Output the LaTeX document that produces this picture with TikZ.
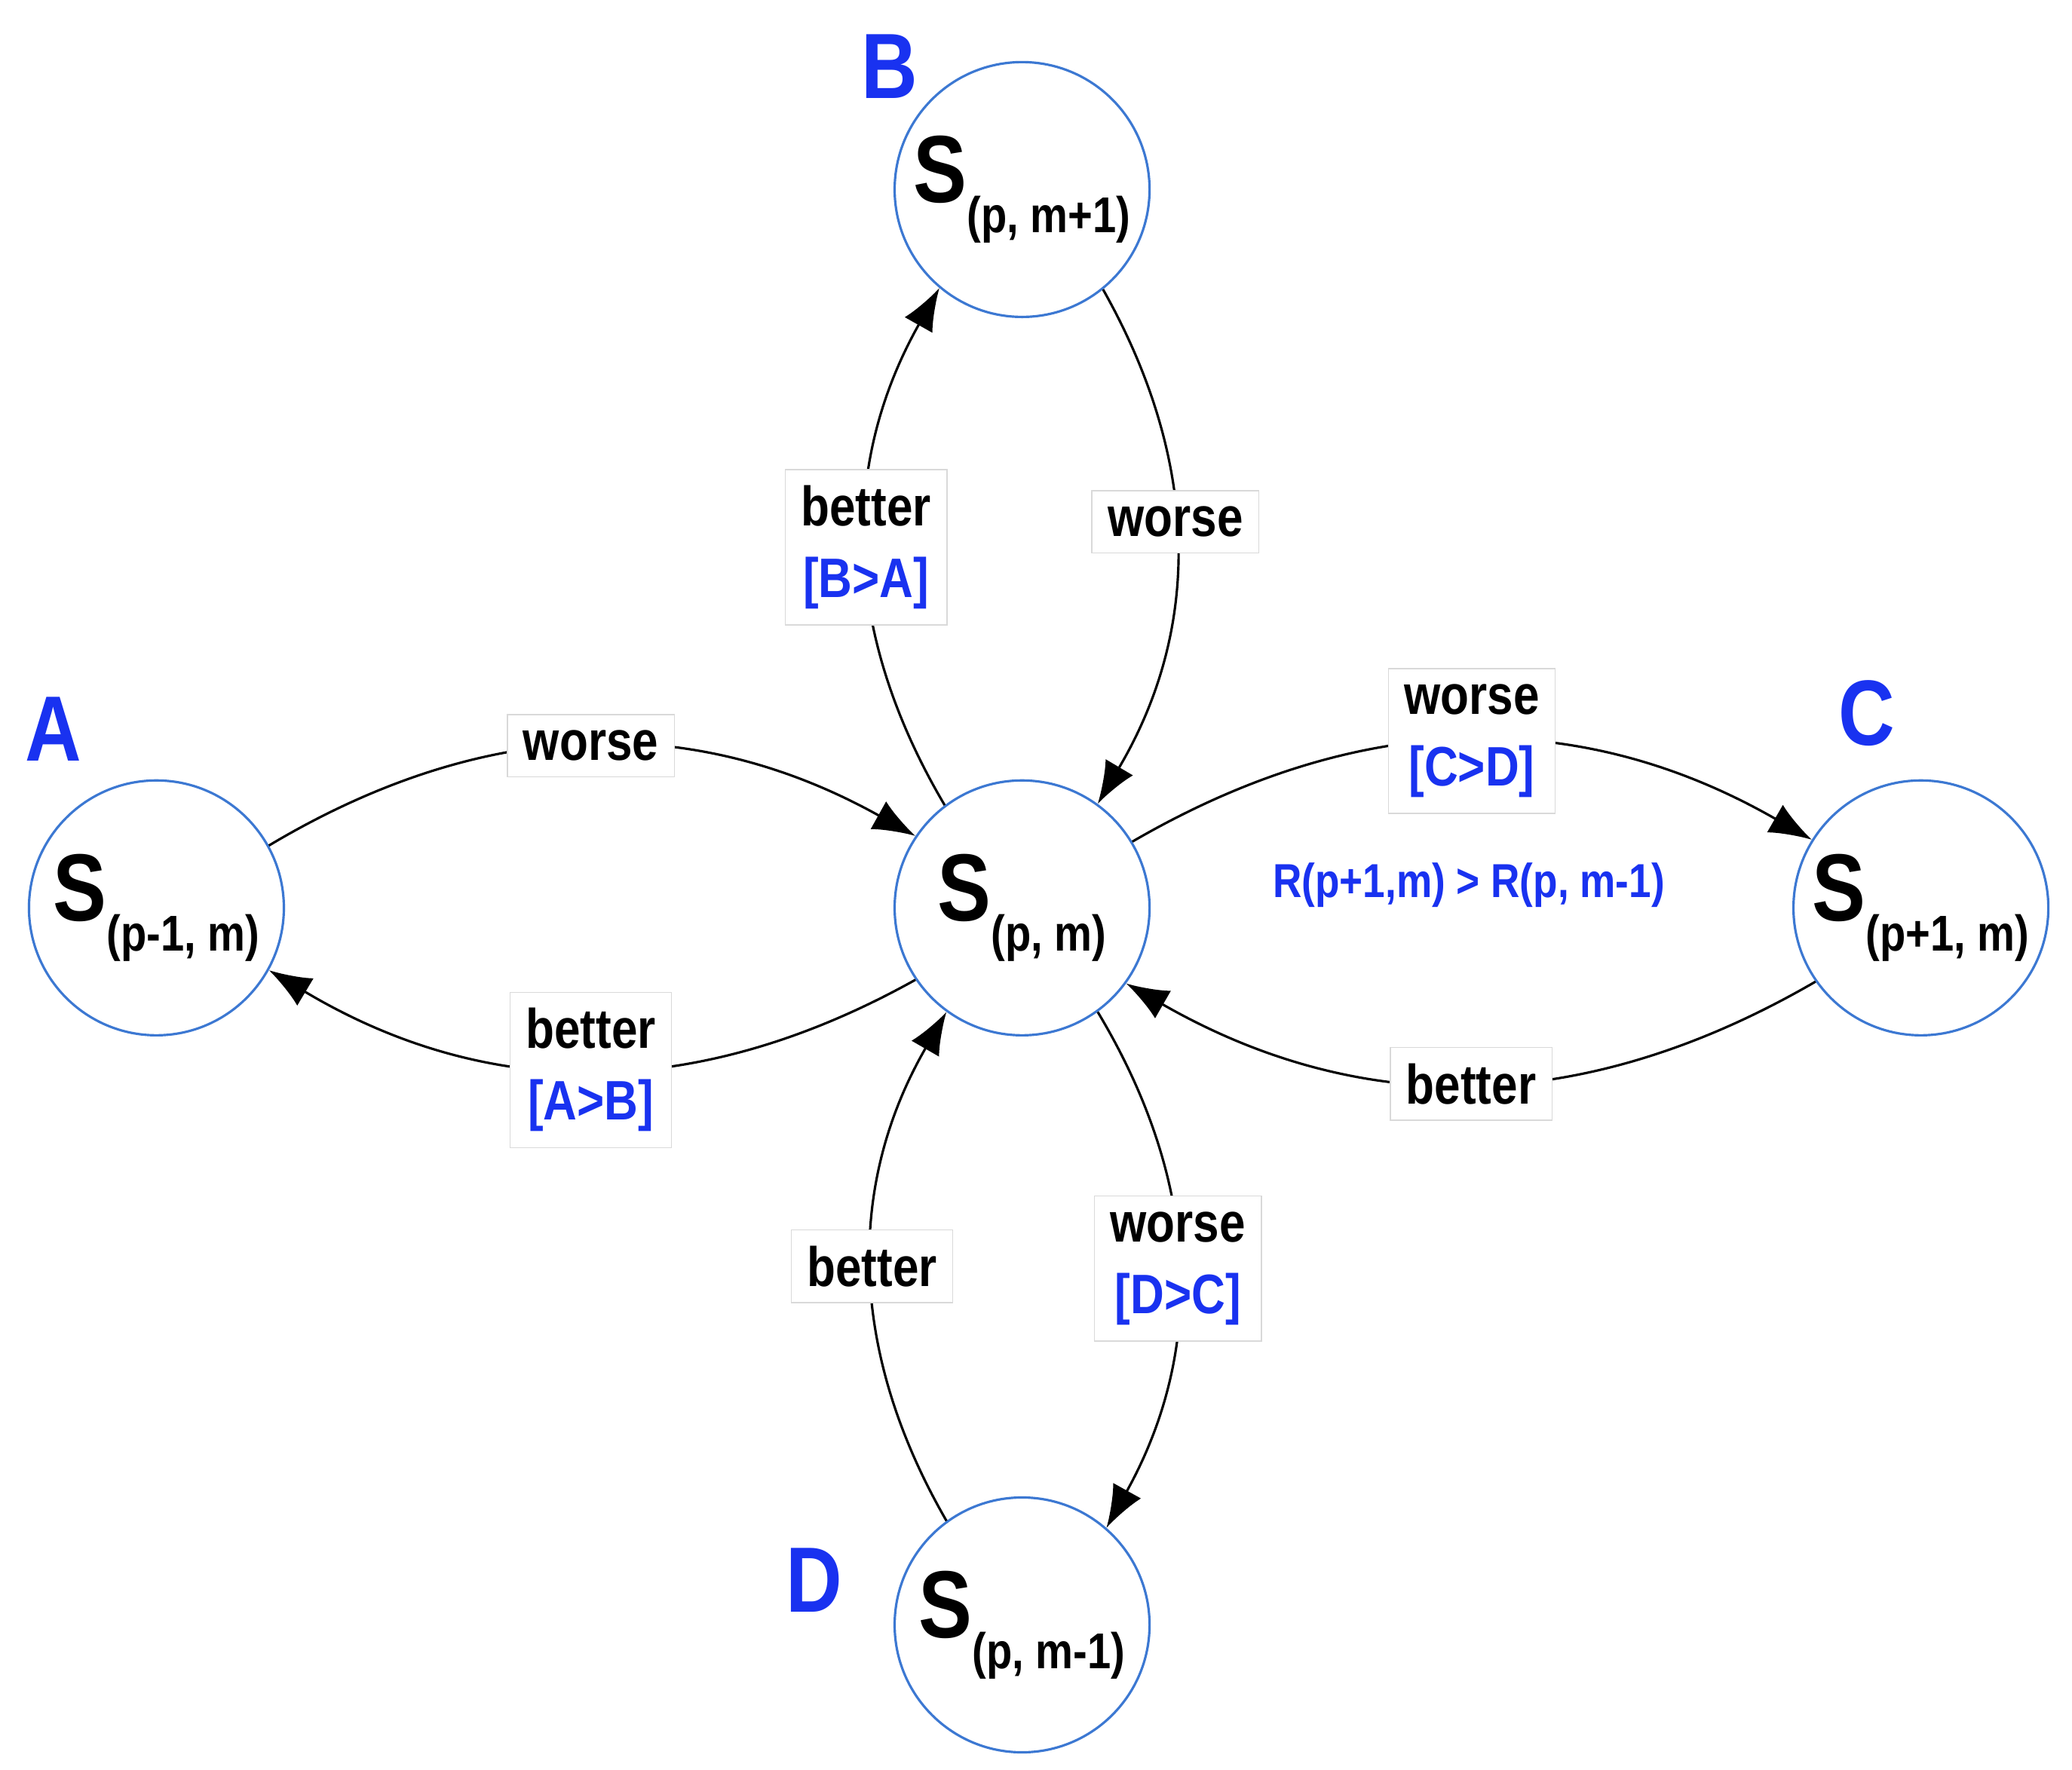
\documentclass[tikz,border=0pt]{standalone}
\usepackage{fontspec}
\setmainfont[FakeStretch=0.84]{Liberation Sans}
\usetikzlibrary{arrows.meta}
\definecolor{lblue}{RGB}{25,50,240}
\definecolor{cblue}{RGB}{60,120,210}
\tikzset{
  state/.style = {circle, draw=cblue, line width=0.9pt, minimum size=3.38cm, inner sep=0pt},
  tag/.style = {text=lblue, font=\bfseries\fontsize{35}{35}\selectfont},
  lab/.style = {fill=white, draw=black!15, line width=0.4pt, font=\bfseries\fontsize{21}{25}\selectfont, align=center, inner sep=6pt},
  arrow/.style = {draw, -{Latex[length=16pt,width=12pt]}, line width=0.9pt, bend left=30}
}
\newcommand{\st}[1]{\bfseries\fontsize{36}{36}\selectfont S\raisebox{-0.32em}{\fontsize{19}{19}\selectfont #1}}
\newcommand{\cmp}[1]{\textcolor{lblue}{#1}}
\begin{document}
\begin{tikzpicture}[x=0.01758cm, y=0.01758cm]
  \useasboundingbox (0,0) rectangle (1563,1335);
  % states
  \node [state] (center) at (771,650) {\st{(p, m)}};
  \node [state] (up)     at (771,1192) {\st{(p, m+1)}};
  \node [state] (down)   at (771,109) {\st{(p, m-1)}};
  \node [state] (left)   at (118,650) {\st{(p-1, m)}};
  \node [state] (right)  at (1449,650) {\st{(p+1, m)}};
  % letters
  \node [tag] (tagA) at (40,785) {A};
  \node [tag] (tagB) at (671,1285) {B};
  \node [tag] (tagC) at (1408,797) {C};
  \node [tag] (tagD) at (614,143) {D};
  % transitions
  \path [arrow] (left.29) to node [lab] {worse} (center.146);
  \path [arrow] (center.214) to node [lab] {better\\[2pt]\cmp{[A>B]}} (left.331);
  \path [arrow] (center.31) to node [lab] {worse\\[2pt]\cmp{[C>D]}} (right.148);
  \path [arrow] (right.215) to node [lab] {better} (center.324);
  \path [arrow] (center.127) to node [lab] {better\\[2pt]\cmp{[B>A]}} (up.230);
  \path [arrow] (up.309) to node [lab, pos=0.45] {worse} (center.54);
  \path [arrow] (down.126) to node [lab] {better} (center.234);
  \path [arrow] (center.306) to node [lab] {worse\\[2pt]\cmp{[D>C]}} (down.49);
  \node [text=lblue, font=\bfseries\fontsize{18}{18}\selectfont] (rule) at (1108,667) {R(p+1,m) > R(p, m-1)};
\end{tikzpicture}
\end{document}
